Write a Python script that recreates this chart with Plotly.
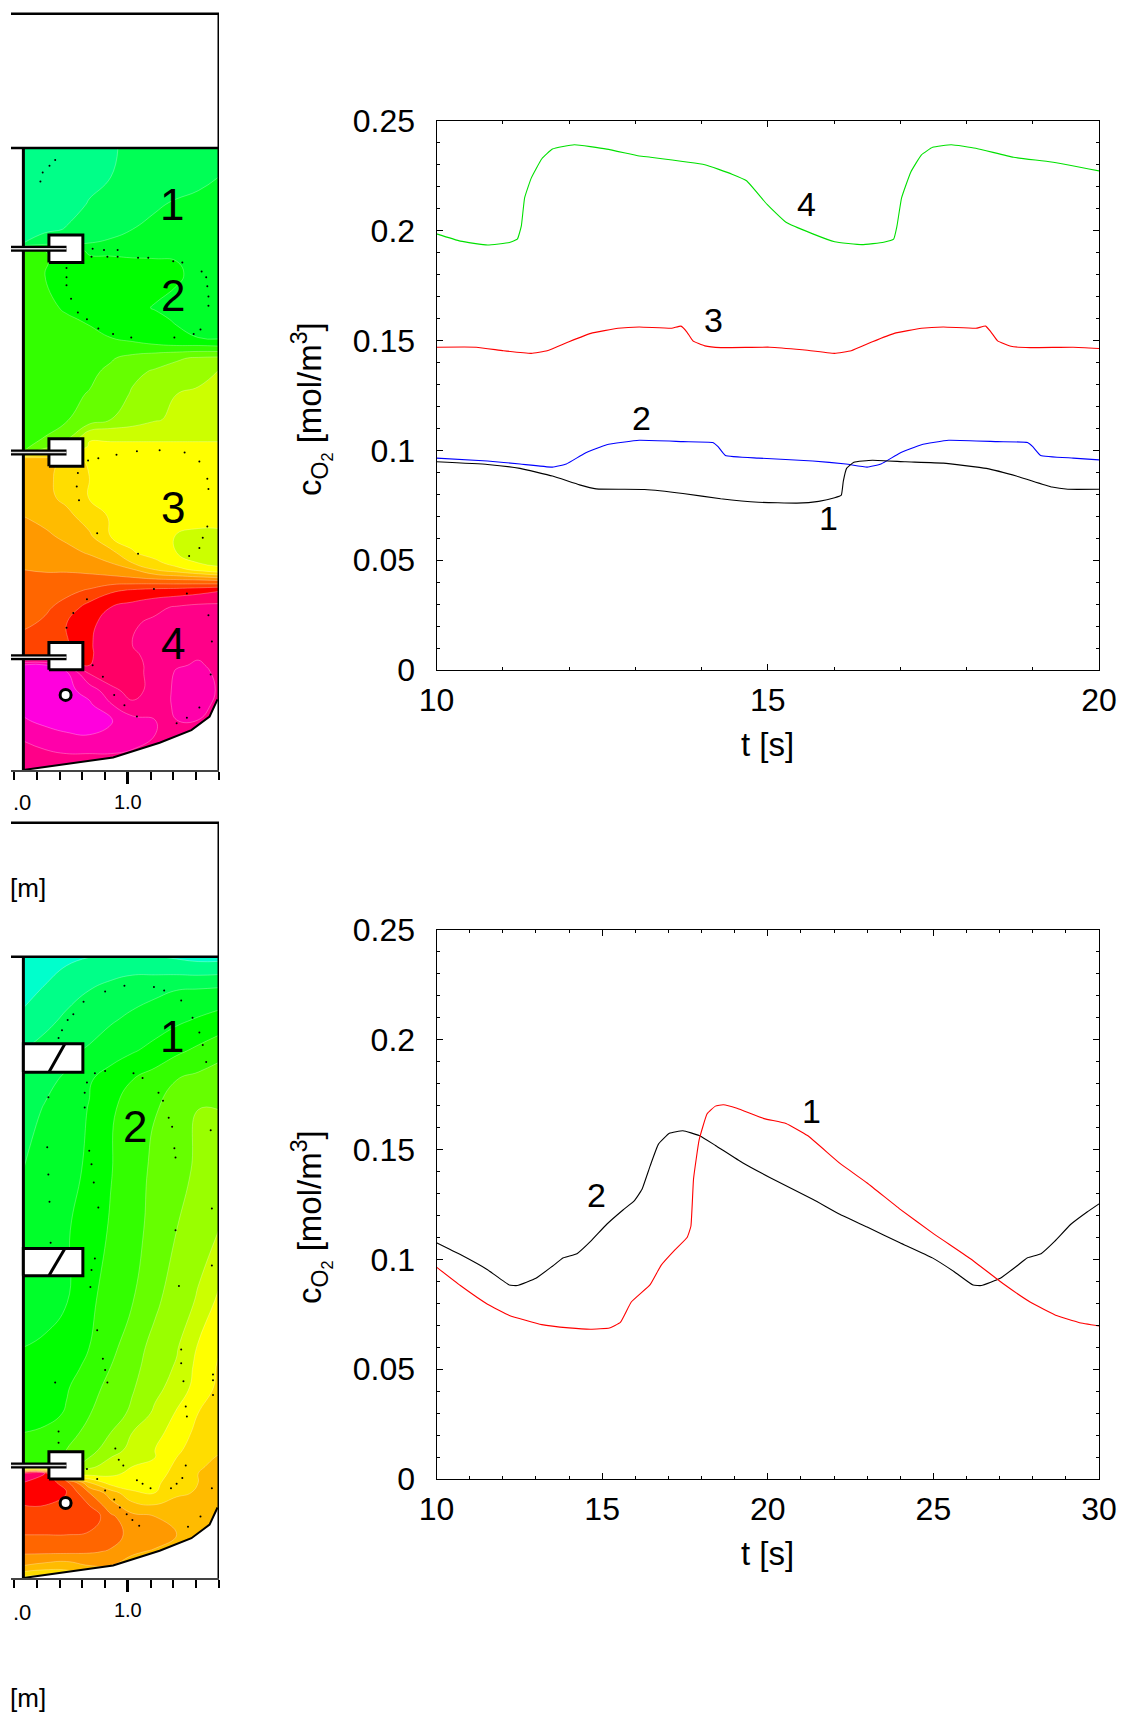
import plotly.graph_objects as go

# ---------- line chart data ----------
a_t4 = [10,10.36,10.77,11.1,11.22,11.28,11.33,11.43,11.59,11.75,12.08,12.57,13.06,13.23,14.05,14.46,14.68,14.99,15.27,15.68,16.01,16.42,16.75,16.9,16.95,17.02,17.16,17.32,17.49,17.77,18.14,18.71,19.28,20]
a_c4 = [.1986,.1953,.1935,.1947,.1962,.2021,.215,.2240,.2328,.2372,.2392,.2372,.2341,.2335,.2301,.2258,.2228,.212,.204,.1986,.195,.1937,.1948,.1962,.2021,.215,.2268,.2346,.238,.2392,.2376,.2335,.2313,.2273]
a_t3 = [10,10.6,11.01,11.43,11.67,12,12.33,12.74,13.06,13.55,13.69,13.78,13.87,14.05,14.29,15.03,15.52,16.01,16.26,16.58,16.91,17.32,17.65,18.14,18.29,18.37,18.47,18.67,18.96,19.61,20]
a_c3 = [.147,.147,.1454,.1442,.1454,.1495,.1533,.1556,.1562,.1556,.1566,.1539,.1499,.1476,.1468,.147,.1458,.1442,.1454,.1495,.1533,.1556,.1562,.1556,.1566,.1539,.1499,.1474,.1468,.147,.1464]
a_t2 = [10,10.77,11.26,11.75,11.96,12.24,12.57,13.06,13.72,14.17,14.25,14.36,14.86,15.68,16.18,16.5,16.71,16.99,17.32,17.73,18.47,18.92,19,19.12,19.61,20]
a_c2 = [.0965,.0952,.0938,.0924,.0938,.0987,.1026,.1046,.104,.1036,.1017,.0977,.0965,.0952,.0938,.0924,.0938,.0987,.1026,.1046,.104,.1036,.1017,.0977,.0965,.0957]
a_t1 = [10,10.77,11.26,11.75,12.16,12.41,13.14,13.72,14.29,14.86,15.44,15.77,16.01,16.11,16.14,16.19,16.3,16.58,17.08,17.65,18.3,18.8,19.29,19.53,20]
a_c1 = [.0948,.0936,.0918,.0883,.0843,.0825,.0822,.0804,.078,.0764,.076,.0768,.0784,.0796,.0859,.0918,.0946,.0955,.0948,.0942,.0918,.0879,.0833,.0823,.0823]

b_t2 = [10,10.72,11.54,12.2,12.44,13,13.5,13.83,14.24,14.65,15.14,15.63,15.96,16.2,16.45,16.7,17.03,17.44,17.93,18.42,19.24,20.06,21.37,22.19,23,23.99,24.97,25.63,26.2,26.45,27.02,27.51,27.84,28.25,28.66,29.15,29.64,30]
b_c2 = [.1076,.1022,.0953,.0883,.0881,.0914,.0969,.1007,.1026,.1082,.116,.1225,.1265,.1318,.1426,.1525,.1574,.1586,.1564,.1519,.144,.1373,.1273,.1204,.1147,.1076,.1007,.0944,.0883,.0881,.0914,.0969,.1007,.1026,.1082,.116,.1216,.1253]
b_t1 = [10,10.72,11.54,12.2,13.18,14,14.65,15.22,15.55,15.88,16.45,16.78,17.19,17.57,17.68,17.76,17.93,18.17,18.42,18.66,19.07,19.89,20.55,21.2,22.19,23,23.99,24.97,26.12,27.1,27.92,28.74,29.39,30]
b_c1 = [.0965,.0881,.0796,.0745,.0703,.0688,.0682,.0688,.0713,.0806,.0885,.0973,.1042,.1101,.1151,.1367,.1545,.1663,.1698,.1704,.1688,.1641,.1619,.1564,.1436,.1348,.1229,.1121,.1003,.089,.0806,.0743,.0713,.0697]

y_ticks = [0, .05, .1, .15, .2, .25]
y_ticktext = ["0", "0.05", "0.1", "0.15", "0.2", "0.25"]

# ---------- contour panel data ----------
band_colors = ["#00ffcc","#00ff88","#00ff55","#00ff2a","#00ff00","#33ff00","#66ff00","#99ff00","#ccff00","#ffff00",
               "#ffdd00","#ffbb00","#ff9900","#ff6600","#ff4400","#ff0000","#ff0066","#ff0088","#ff00aa","#ff00dd"]
grid_x = [.08,.27,.46,.66,.85,1.04,1.24,1.43,1.62,1.8]
p1_h = [5.47,5.21,4.97,4.75,4.63,4.56,4.47,4.35,4.06,3.96,3.80,3.73,3.62,3.50,3.30,3.08,2.93,2.84,2.80,2.74,2.58,2.40,2.23,2.05,1.91,1.82,1.76,1.67,1.58,1.43,1.28,1.10,1.01,.92,.86,.70,.57,.44,.31,.18,0]
p1_z = [
 [1.3,1.4,1.6,1.8,1.95,2.1,2.3,2.5,2.7,2.8],
 [1.3,1.4,1.6,1.8,2.0,2.2,2.4,2.6,2.8,3.0],
 [1.4,1.5,1.7,2.05,2.3,2.6,2.9,3.1,3.2,3.3],
 [1.6,1.8,2.05,2.4,2.8,3.0,3.2,3.3,3.3,3.4],
 [2.0,2.6,2.9,3.0,3.1,3.3,3.3,3.3,3.4,3.4],
 [5.1,5.0,4.8,3.8,3.8,3.8,3.7,3.6,3.5,3.4],
 [5.3,5.1,4.5,4.3,4.2,4.1,4.1,4.0,3.5,3.4],
 [5.4,5.0,4.6,4.5,4.5,4.4,4.3,4.15,3.7,3.4],
 [5.5,5.2,4.9,4.6,4.5,4.2,3.95,3.7,3.4,3.4],
 [5.6,5.4,5.1,4.9,4.6,4.4,4.2,3.9,3.7,3.6],
 [5.7,5.6,5.4,5.2,5.0,4.8,4.4,4.2,4.0,3.8],
 [5.7,5.7,5.6,5.4,5.3,5.2,5.1,5.0,5.0,4.9],
 [5.7,5.7,5.7,5.8,5.9,6.3,6.6,6.9,7.1,7.2],
 [5.7,5.7,5.7,5.8,6.2,6.8,7.1,7.3,7.6,8.1],
 [5.7,5.7,5.8,6.05,6.5,7.1,7.6,8.0,8.2,8.3],
 [5.7,5.8,5.95,6.3,7.0,7.4,7.9,8.2,8.4,8.5],
 [5.8,6.0,6.5,8.9,8.9,8.9,8.9,8.9,8.9,8.9],
 [5.8,6.5,8.0,9.1,9.1,9.1,9.1,9.1,9.1,9.1],
 [6.0,8.0,9.5,9.2,9.2,9.2,9.2,9.2,9.2,9.2],
 [11.3,11.2,10.8,9.6,9.3,9.3,9.3,9.3,9.3,9.3],
 [11.7,11.2,10.7,10.0,9.5,9.4,9.4,9.4,9.4,9.4],
 [11.6,11.3,10.7,9.95,9.6,9.4,9.3,9.3,9.3,9.3],
 [12.0,11.7,11.3,10.5,9.9,9.5,9.3,9.3,9.3,9.3],
 [12.4,12.2,11.8,11.2,10.0,9.6,9.4,8.95,8.8,8.8],
 [12.6,12.5,12.3,11.9,11.3,10.1,9.5,9.0,8.6,8.6],
 [12.8,12.7,12.6,12.4,12.0,11.0,10.3,9.5,9.0,8.9],
 [13.0,12.9,12.9,12.8,12.6,12.1,11.0,10.4,9.7,9.1],
 [13.3,13.3,13.3,13.3,13.3,13.3,13.2,13.1,13.0,12.8],
 [13.5,13.5,13.7,14.1,14.8,15.1,15.3,15.4,15.6,15.9],
 [13.6,13.8,14.4,15.4,16.0,16.4,16.8,17.1,17.3,17.3],
 [13.8,14.2,15.0,15.8,16.4,16.9,17.2,17.3,17.5,17.4],
 [14.5,14.8,14.9,15.9,16.5,17.0,17.3,17.4,17.6,17.5],
 [14.7,14.9,15.0,15.9,16.4,16.9,17.2,17.6,17.9,17.7],
 [19.2,19.2,17.5,16.0,16.3,16.8,17.2,17.9,18.1,17.8],
 [19.2,19.2,19.1,16.8,16.2,16.7,17.3,18.1,18.3,17.8],
 [19.3,19.4,19.3,18.6,17.3,16.6,17.4,18.2,18.5,17.9],
 [19.3,19.4,19.4,19.2,18.1,17.2,17.7,18.1,18.3,17.8],
 [18.9,19.3,19.5,19.5,19.1,18.3,18,18,18,18],
 [18.3,18.6,18.9,19,18.8,18.3,18,18,18,18],
 [17.6,18,18.1,18.1,18.1,18,18,18,18,18],
 [17.2,17.4,17.6,17.6,17.6,17.6,17.6,17.6,17.6,17.6],
]
p2_h = [5.46,5.17,4.91,4.64,4.38,4.12,3.59,3.06,2.445,2.03,1.86,1.68,1.45,1.28,1.13,1.06,.98,.92,.84,.75,.64,.54,.38,.23,.11,.03,0]
p2_z = [
 [.3,.5,.8,1.0,1.3,1.3,1.1,.9,.7,.7],
 [.7,1.1,1.6,2.0,2.3,2.6,2.8,3.0,3.1,3.2],
 [1.2,1.7,2.2,2.6,2.9,3.2,3.5,3.8,4.1,4.4],
 [2.0,2.4,2.8,3.1,3.5,3.9,4.3,4.8,5.2,5.6],
 [2.6,2.85,3.1,3.9,4.5,5.0,5.5,6.0,6.3,6.6],
 [2.75,3.05,3.5,4.05,4.9,5.3,5.95,6.5,7.0,7.0],
 [3.0,3.5,3.8,4.1,4.95,5.6,6.2,6.8,7.1,7.6],
 [3.4,3.6,3.9,4.5,5.1,5.7,6.3,7.0,7.6,8.0],
 [3.6,3.75,3.95,4.8,5.4,5.95,6.8,7.5,8.1,9.2],
 [4.0,4.1,4.4,5.0,5.7,6.6,7.3,7.9,9.1,9.9],
 [4.1,4.2,4.5,5.3,6.0,6.7,7.5,8.1,9.3,10.1],
 [4.2,4.4,4.9,5.6,6.3,6.9,7.7,8.4,9.4,10.2],
 [4.4,4.6,5.1,5.95,6.5,7.2,8.2,9.1,10.0,10.4],
 [5.0,5.2,5.6,6.3,7.0,8.0,8.7,9.4,10.3,10.6],
 [5.1,5.3,6.0,6.7,7.4,8.4,9.0,9.8,10.5,10.8],
 [5.2,5.4,6.1,7.0,8.0,8.9,9.0,10.0,10.6,11.1],
 [5.5,5.6,6.5,7.8,8.4,9.0,9.4,10.2,10.9,11.2],
 [16.2,16.0,8.0,8.5,8.8,9.2,9.6,10.3,11.0,11.3],
 [16.0,15.6,14.5,11.0,9.5,9.3,9.8,10.5,11.0,11.3],
 [15.3,15.2,15.0,13.0,11.5,10.2,10.0,10.8,11.1,11.3],
 [15.0,15.0,15.0,14.0,12.4,11.3,11.05,11.4,11.3,11.3],
 [14.8,14.8,14.9,14.9,13.2,12.3,12.0,11.6,11.4,11.3],
 [14.0,14.0,14.0,13.8,13.4,12.7,12.4,12.0,11.6,11.4],
 [13.2,13.2,13.2,13.1,12.9,12.1,11.9,11.5,11.4,11.4],
 [12.0,11.7,11.5,12.0,12.0,11.7,11.5,11.5,11.4,11.4],
 [10.5,10.2,10.5,11.0,11.5,11.5,11.4,11.4,11.4,11.4],
 [9.5,9.5,10,10.5,11,11,11,11,11,11],
]
bowl_x = [.08,.49,.87,1.28,1.56,1.72,1.79]
bowl_h = [0,.06,.11,.24,.35,.47,.62]

p1_dots_x = [.36,.31,.25,.23,.69,.79,.91,.68,.82,.91,1.09,1.18,1.40,1.48,1.65,1.69,1.70,1.71,1.71,1.64,1.58,1.41,1.03,.87,.74,.64,.56,.50,.46,.46,.46,
             .65,.74,.90,1.08,1.28,1.50,1.63,1.70,1.71,1.70,1.66,1.63,1.54,1.09,.73,.57,.55,.56,.64,.52,.46,1.23,1.52,1.71,1.74,1.73,1.63,1.52,1.43,1.08,.97,.88,.78,.69]
p1_dots_h = [5.36,5.31,5.25,5.17,4.58,4.57,4.57,4.51,4.51,4.51,4.50,4.50,4.47,4.46,4.38,4.33,4.25,4.16,4.08,3.87,3.83,3.80,3.80,3.83,3.88,3.96,4.02,4.14,4.26,4.33,4.41,
             2.72,2.74,2.77,2.80,2.81,2.79,2.71,2.56,2.47,2.14,2.04,1.95,1.88,1.90,2.08,2.37,2.49,2.61,1.50,1.38,1.25,1.59,1.55,1.36,1.13,.84,.55,.46,.41,.47,.57,.66,.82,.92]
p2_dots_x = [.47,.42,.39,.52,.61,.80,.97,1.23,1.32,1.47,1.57,1.63,1.66,1.69,.71,.80,1.05,1.13,.64,.62,.62,1.27,1.31,1.36,1.39,1.41,1.42,1.73,.66,.68,.70,.74,.30,.29,.30,.31,.32,.71,.68,.67,1.42,1.45,1.74,1.74,
             .73,.78,.80,.82,.36,.39,.39,.89,.92,.96,1.08,1.13,1.20,1.38,1.43,1.48,1.51,1.52,1.51,1.49,1.47,1.47,1.74,1.75,1.75,1.75,.64,.73,.80,.88,.93,.99,1.04,1.10,1.53,1.64]
p2_dots_h = [4.91,4.82,4.75,4.96,5.07,5.16,5.21,5.20,5.17,5.08,4.93,4.80,4.69,4.54,4.44,4.46,4.44,4.40,4.36,4.27,4.14,4.27,4.20,4.05,3.97,3.78,3.70,3.94,3.76,3.64,3.48,3.26,4.23,3.79,3.55,3.31,2.95,2.81,2.71,2.56,3.06,2.57,3.25,2.75,
             2.18,1.93,1.83,1.72,1.72,1.29,1.19,1.14,1.04,.99,.86,.83,.79,.79,.83,.88,.99,1.42,1.51,1.73,1.89,2.01,.79,1.61,1.74,1.79,.96,.87,.77,.69,.62,.56,.51,.46,.45,.54]

burner_x = [.305,.604]
p1_burner_h = [(4.46,4.70),(2.67,2.91),(.88,1.12)]
p2_box_x = [.08,.604]
p2_box_h = [(4.45,4.70),(2.66,2.90)]
p2_burner_h = (.87,1.11)
slash_x = (.446,.305)
lance_x = (-.029,.46)
p1_lance_h = [4.58,2.79,.99]
p2_lance_h = .99
port_x = .452
port_h = .66
FRAME_TOP = 6.65
CEIL = 5.465
LEFT_END = -.029
WALL_X = .08
RIGHT_X = 1.803

# ---------- layout helpers ----------
W, H = 1122, 1712
FONT = "Liberation Sans, Arial, sans-serif"
def xdom(a, b): return [a / W, b / W]
def ydom(top, bot): return [1 - bot / H, 1 - top / H]

fig = go.Figure()
scale = [[0, band_colors[0]]] + [[(k + 1) / len(band_colors), c] for k, c in enumerate(band_colors)]

def line(xa, ya, xs, ys, color="black", width=3):
    fig.add_trace(go.Scatter(x=list(xs), y=list(ys), xaxis=xa, yaxis=ya, mode="lines",
                             line=dict(color=color, width=width), cliponaxis=False, hoverinfo="skip"))

def box(xa, ya, x0, x1, y0, y1):
    fig.add_trace(go.Scatter(x=[x0, x1, x1, x0, x0], y=[y0, y0, y1, y1, y0], xaxis=xa, yaxis=ya, mode="lines",
                             fill="toself", fillcolor="white", line=dict(color="black", width=3),
                             cliponaxis=False, hoverinfo="skip"))

def lance(xa, ya, h):
    line(xa, ya, lance_x, (h, h), "black", 6)
    line(xa, ya, lance_x, (h, h), "#dddddd", 1.5)

def panel(xa, ya, hs, zs, dx, dh):
    fig.add_trace(go.Contour(x=grid_x, y=hs, z=zs, xaxis=xa, yaxis=ya, colorscale=scale, showscale=False,
                             autocontour=False, contours=dict(start=0, end=19, size=1, coloring="fill"),
                             line=dict(color="rgba(255,255,255,0.35)", width=0.8, smoothing=1.3),
                             hoverinfo="skip"))
    fig.add_trace(go.Scatter(x=bowl_x + [bowl_x[-1], RIGHT_X, RIGHT_X, WALL_X], y=bowl_h + [bowl_h[-1], bowl_h[-1], -0.01, -0.01],
                             xaxis=xa, yaxis=ya, mode="lines", fill="toself", fillcolor="white",
                             line=dict(width=0), hoverinfo="skip"))
    line(xa, ya, bowl_x, bowl_h, "black", 2)
    fig.add_trace(go.Scatter(x=dx, y=dh, xaxis=xa, yaxis=ya, mode="markers",
                             marker=dict(color="black", size=2), hoverinfo="skip"))
    line(xa, ya, (LEFT_END, RIGHT_X), (FRAME_TOP, FRAME_TOP), "black", 3.5)
    line(xa, ya, (LEFT_END, RIGHT_X), (CEIL, CEIL), "black", 2.5)
    line(xa, ya, (RIGHT_X, RIGHT_X), (0, FRAME_TOP), "black", 3)
    line(xa, ya, (WALL_X, WALL_X), (0, CEIL), "black", 3)

# panel 1
panel("x", "y", p1_h, p1_z, p1_dots_x, p1_dots_h)
for (h0, h1), h in zip(p1_burner_h, p1_lance_h):
    box("x", "y", burner_x[0], burner_x[1], h0, h1)
    lance("x", "y", h)
# panel 2
panel("x2", "y2", p2_h, p2_z, p2_dots_x, p2_dots_h)
for h0, h1 in p2_box_h:
    box("x2", "y2", p2_box_x[0], p2_box_x[1], h0, h1)
    line("x2", "y2", slash_x, (h1, h0), "black", 3)
box("x2", "y2", burner_x[0], burner_x[1], p2_burner_h[0], p2_burner_h[1])
lance("x2", "y2", p2_lance_h)
for xa, ya in (("x", "y"), ("x2", "y2")):
    fig.add_trace(go.Scatter(x=[port_x], y=[port_h], xaxis=xa, yaxis=ya, mode="markers",
                             marker=dict(color="white", size=11, line=dict(color="black", width=3)), hoverinfo="skip"))

# line charts
SM = dict(shape="spline", smoothing=0.35, width=1.1)
for t, c, col in ((a_t4, a_c4, "#00e000"), (a_t3, a_c3, "#ff0000"), (a_t2, a_c2, "#0000ff"), (a_t1, a_c1, "black")):
    fig.add_trace(go.Scatter(x=t, y=c, xaxis="x3", yaxis="y3", mode="lines", line=dict(color=col, **SM)))
for t, c, col in ((b_t2, b_c2, "black"), (b_t1, b_c1, "#ff0000")):
    fig.add_trace(go.Scatter(x=t, y=c, xaxis="x4", yaxis="y4", mode="lines", line=dict(color=col, **SM)))

def panel_x(top, bot):
    return dict(domain=xdom(11, 219), range=[LEFT_END, RIGHT_X], tickmode="array", tickvals=[1.0], ticktext=["1.0"],
                ticks="outside", ticklen=12, tickwidth=2.5, tickcolor="black", showgrid=False, zeroline=False,
                showline=True, linecolor="#444444", linewidth=1.5,
                tickfont=dict(family=FONT, size=20, color="black"), ticklabelstandoff=1,
                minor=dict(ticks="outside", tickmode="linear", tick0=0, dtick=0.2, ticklen=8, tickwidth=1.5, tickcolor="black", showgrid=False))

def panel_y(top, bot):
    return dict(domain=ydom(top, bot), range=[0, FRAME_TOP + .005], visible=False)

TICK = 32
def chart_x(rng):
    return dict(domain=xdom(436.5, 1099), range=rng, tick0=10, dtick=5, ticks="inside", ticklen=6, tickwidth=1, tickcolor="black",
                mirror="allticks", showline=True, linecolor="black", linewidth=1, showgrid=False, zeroline=False,
                tickfont=dict(family=FONT, size=TICK, color="black"), ticklabelstandoff=2,
                minor=dict(ticks="inside", tick0=10, dtick=1, ticklen=3, tickwidth=1, tickcolor="black", showgrid=False))

def chart_y(top, bot):
    return dict(domain=ydom(top, bot), range=[0, .25], tickmode="array", tickvals=y_ticks, ticktext=y_ticktext, ticks="inside",
                ticklen=6, tickwidth=1, tickcolor="black", mirror="allticks", showline=True, linecolor="black", linewidth=1,
                showgrid=False, zeroline=False, tickfont=dict(family=FONT, size=TICK, color="black"), ticklabelstandoff=14,
                minor=dict(ticks="inside", tickmode="linear", tick0=0, dtick=.01, ticklen=3, tickwidth=1, tickcolor="black", showgrid=False))

def lab(xa, ya, x, y, s, size=34):
    return dict(xref=xa, yref=ya, x=x, y=y, text=s, showarrow=False, xanchor="center", yanchor="middle",
                font=dict(family=FONT, size=size, color="black"))

def plab(x, y, s, size=33, angle=0, xanchor="center"):
    return dict(xref="paper", yref="paper", x=x / W, y=1 - y / H, text=s, showarrow=False, textangle=angle, xanchor=xanchor, yanchor="middle",
                font=dict(family=FONT, size=size, color="black"))

ann = [
    lab("x3", "y3", 15.58, .2122, "4"), lab("x3", "y3", 14.18, .1595, "3"), lab("x3", "y3", 13.1, .1148, "2"), lab("x3", "y3", 15.91, .069, "1"),
    lab("x4", "y4", 21.33, .1675, "1"), lab("x4", "y4", 14.84, .1292, "2"),
    lab("x", "y", 1.39, 4.97, "1", 44), lab("x", "y", 1.40, 4.17, "2", 44), lab("x", "y", 1.40, 2.31, "3", 44), lab("x", "y", 1.40, 1.11, "4", 44),
    lab("x2", "y2", 1.39, 4.76, "1", 44), lab("x2", "y2", 1.06, 3.97, "2", 44),
    plab(767, 744, "t [s]"), plab(767, 1553, "t [s]"),
    plab(311, 409, "c<sub>O<sub>2</sub></sub> [mol/m<sup>3</sup>]", angle=-90),
    plab(311, 1217, "c<sub>O<sub>2</sub></sub> [mol/m<sup>3</sup>]", angle=-90),
    plab(11, 802, ".0", 22, xanchor="left"), plab(11, 1612, ".0", 22, xanchor="left"),
    plab(48, 888, "[m]", 26, xanchor="right"), plab(48, 1698, "[m]", 26, xanchor="right"),
]

fig.update_layout(
    width=W, height=H, margin=dict(l=0, r=0, t=0, b=0, autoexpand=False), paper_bgcolor="white", plot_bgcolor="white", showlegend=False,
    xaxis=dict(panel_x(13, 770), anchor="y"), yaxis=panel_y(12.6, 770),
    xaxis2=dict(panel_x(822, 1578), anchor="y2"), yaxis2=panel_y(821.6, 1578),
    xaxis3=dict(chart_x([10, 20]), anchor="y3"), yaxis3=dict(chart_y(121, 670), anchor="x3"),
    xaxis4=dict(chart_x([10, 30]), anchor="y4"), yaxis4=dict(chart_y(930, 1479), anchor="x4"),
    annotations=ann,
)
fig.write_html("out.html", config={"displayModeBar": False}, post_script="document.body.style.margin='0';")
